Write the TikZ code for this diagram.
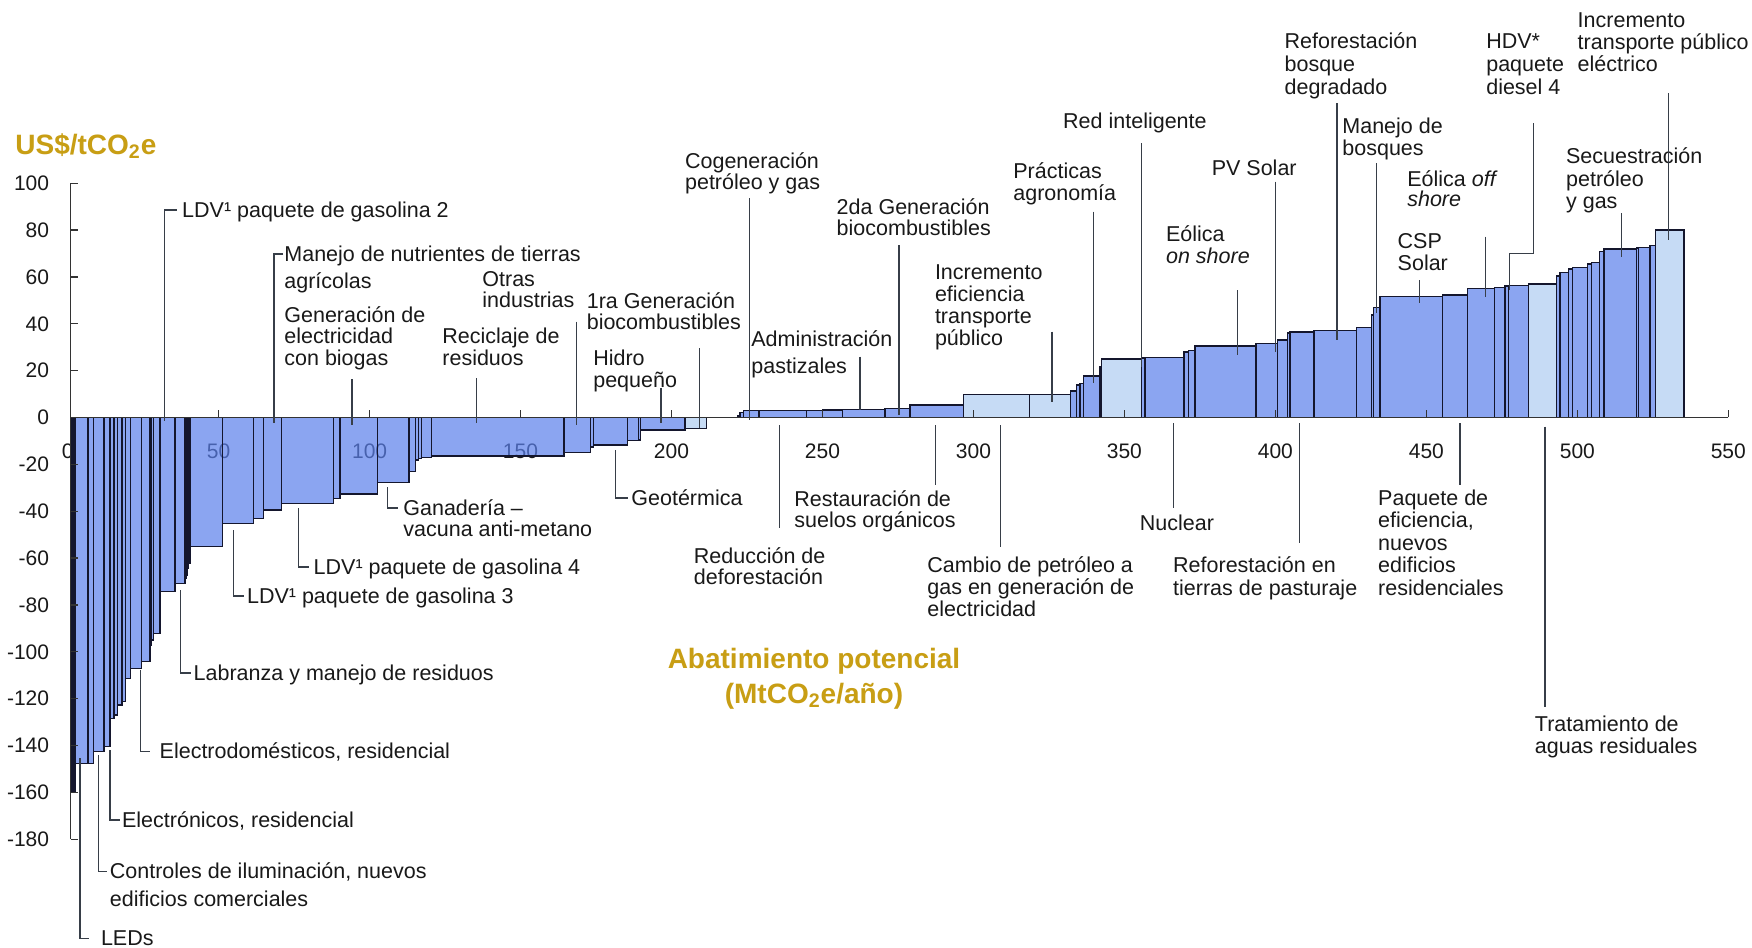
\documentclass[tikz,border=0pt]{standalone}
\usepackage{fontspec}
\setmainfont{Liberation Sans}
\definecolor{barmid}{RGB}{91,128,236}
\definecolor{barlight}{RGB}{174,205,242}
\definecolor{barline}{RGB}{20,22,45}
\definecolor{leadc}{RGB}{55,62,72}
\definecolor{txt}{RGB}{25,25,25}
\definecolor{gold}{RGB}{200,158,20}
\newcommand\lf{\fontsize{10.75}{11}\selectfont}
\newcommand\ML[2][11]{\vtop{\baselineskip=#1pt\lineskiplimit=-50pt\lineskip=0pt #2}}
\tikzset{
  lab/.style={font=\lf, anchor=base west, inner sep=0pt, text=txt},
  tkl/.style={font=\fontsize{10.5}{11}\selectfont, inner sep=0pt, text=txt},
  ttl/.style={font=\fontsize{14}{15}\selectfont\bfseries, inner sep=0pt, text=gold},
  lead/.style={draw=leadc, line width=0.55pt},
  barm/.style={fill=barmid, fill opacity=0.7, draw=barline, draw opacity=1, line width=0.7pt},
  barl/.style={fill=barlight, fill opacity=0.7, draw=barline, draw opacity=1, line width=0.7pt},
  axis/.style={draw=black!80, line width=0.6pt}
}
\begin{document}
\begin{tikzpicture}[x=0.5pt,y=-0.5pt]
\useasboundingbox (0,0) rectangle (1752,948);
\fill[white] (0,0) rectangle (1752,948);

% x tick labels (under the bars)
\foreach \u/\X in {0/67.6,50/218.6,100/369.6,150/520.5,200/671.5,250/822.5,300/973.5,350/1124.4,400/1275.4,450/1426.4,500/1577.4,550/1728.3}
  \node[tkl] (xl\u) at (\X,451) {\u};

% negative bars
\foreach \r/\b/\c [remember=\r as \l (initially 70.5)] in {
  72/791.7/m,73.5/791.7/m,75/791.7/m,88/763.3/m,93.3/763.3/m,104/751.7/m,110/746.7/m,
  114/718.3/m,117.3/715/m,122/705/m,125.3/701.7/m,130.7/678.3/m,141.7/668.3/m,150/661.7/m,
  151.7/645/m,153.3/640/m,160/633.3/m,175/591.7/m,185/583.3/m,186.2/578/m,187.3/575/m,188.7/568/m,
  190/563/m,222.7/546.7/m,253.3/523.3/m,263.3/518.3/m,281.7/510/m,333.3/503.3/m,340/498.3/m,
  377.7/494/m,409/482.7/m,415.7/471.7/m,418.3/460/m,421.7/458.3/m,431.7/457.3/m,564/456/m,
  590.7/452.7/m,593.3/447/m,627.7/445/m,638.3/440.7/m,640.7/440/m,685/430/m,706.7/428.3/l}
  \filldraw[bar\c] (\l,417.3) rectangle (\r,\b);

% positive bars
\foreach \r/\b/\c [remember=\r as \l (initially 738)] in {
  740/415.5/m,743.3/412.5/m,759/410.7/m,806.7/410.7/m,822.7/410.3/m,842.3/409.8/m,885/409.3/m,
  910/408.3/m,963.3/405/m,1029.3/394.3/l,1070.7/394.3/l,1076.7/391/m,1080/385/m,1083.3/383.3/m,
  1100/376/m,1101.7/367/m,1141.7/359/l,1145/358/m,1184/357.3/m,1188.3/352/m,1195/350.7/m,
  1256/346/m,1277.7/343.3/m,1287.3/340/m,1290/333/m,1314/332/m,1356.7/330.7/m,1371.7/327.3/m,
  1373.3/315/m,1380/307.3/m,1442.3/296.7/m,1467.7/295/m,1494.3/288.7/m,1505/287.3/m,
  1508.3/286/m,1528.3/285.7/m,1556.7/284/l,1560/276/m,1568.3/272.7/m,1572.7/269/m,
  1587.3/267.3/m,1591.7/264/m,1599.3/262.3/m,1604/251.7/m,1636.7/249/m,1638.3/248/m,
  1650/247.3/m,1655.7/245.7/m,1684/230/l}
  \filldraw[bar\c] (\l,417.3) rectangle (\r,\b);

% axes
\draw[axis] (70.5,417.3) -- (1728.3,417.3);
\foreach \X in {218.6,369.6,520.5,671.5,822.5,973.5,1124.4,1275.4,1426.4,1577.4,1728.3}
  \draw[axis] (\X,417.3) -- (\X,410);
\draw[axis] (70.5,183.2) -- (70.5,839.2);
\foreach \v [count=\i] in {100,80,...,-180} {
  \draw[axis] (70.5,{417.5-2.343*\v}) -- (77.5,{417.5-2.343*\v});
  \node[tkl, anchor=east] (yl\i) at (49.5,{417.5-2.343*\v}) {\v};
}

% titles
\node[ttl, anchor=base west] (ytitle) at (15,154) {US\$/tCO\textsubscript{2}e};
\node[ttl, anchor=base] (xtitle1) at (814,668) {Abatimiento potencial};
\node[ttl, anchor=base] (xtitle2) at (814,703) {(MtCO\textsubscript{2}e/año)};

% labels above axis
\node[lab] (ldv2) at (181.8,217) {LDV¹ paquete de gasolina 2};
\node[lab] (nutr) at (284,261) {\ML[13.85]{\hbox{Manejo de nutrientes de tierras}\hbox{agrícolas}}};
\node[lab] (biog) at (284,322) {\ML[10.85]{\hbox{Generación de}\hbox{electricidad}\hbox{con biogas}}};
\node[lab] (otras) at (482,286) {\ML[10.75]{\hbox{Otras}\hbox{industrias}}};
\node[lab] (recic) at (442,343.5) {\ML[10.75]{\hbox{Reciclaje de}\hbox{residuos}}};
\node[lab] (bio1) at (586.4,308) {\ML[10.75]{\hbox{1ra Generación}\hbox{biocombustibles}}};
\node[lab] (hidro) at (592.9,365) {\ML{\hbox{Hidro}\hbox{pequeño}}};
\node[lab] (cogen) at (684.7,168) {\ML[10.85]{\hbox{Cogeneración}\hbox{petróleo y gas}}};
\node[lab] (admin) at (751,346) {\ML[13.85]{\hbox{Administración}\hbox{pastizales}}};
\node[lab] (bio2) at (836.3,214.5) {\ML[10.5]{\hbox{2da Generación}\hbox{biocombustibles}}};
\node[lab] (incef) at (934.6,279) {\ML[11.1]{\hbox{Incremento}\hbox{eficiencia}\hbox{transporte}\hbox{público}}};
\node[lab] (pract) at (1013,178.5) {\ML[10.85]{\hbox{Prácticas}\hbox{agronomía}}};
\node[lab] (red) at (1062.8,128) {Red inteligente};
\node[lab] (eolon) at (1165.7,241.5) {\ML[10.85]{\hbox{Eólica}\hbox{\itshape on shore}}};
\node[lab] (pv) at (1211.4,175) {PV Solar};
\node[lab] (refbos) at (1284.2,48.5) {\ML[11.4]{\hbox{Reforestación}\hbox{bosque}\hbox{degradado}}};
\node[lab] (manbos) at (1342,133.5) {\ML[10.85]{\hbox{Manejo de}\hbox{bosques}}};
\node[lab] (hdv) at (1485.9,48.5) {\ML[11.4]{\hbox{HDV*}\hbox{paquete}\hbox{diesel 4}}};
\node[lab] (inctr) at (1577.3,27.5) {\ML[11.1]{\hbox{Incremento}\hbox{transporte público}\hbox{eléctrico}}};
\node[lab] (eoloff) at (1406.9,186) {\ML[10.35]{\hbox{Eólica \textit{off}}\hbox{\itshape shore}}};
\node[lab] (csp) at (1397.3,248.5) {\ML[10.85]{\hbox{CSP}\hbox{Solar}}};
\node[lab] (secu) at (1565.7,163.5) {\ML[11.25]{\hbox{Secuestración}\hbox{petróleo}\hbox{y gas}}};

% labels below axis
\node[lab] (ganad) at (403,515) {\ML[10.8]{\hbox{Ganadería –}\hbox{vacuna anti-metano}}};
\node[lab] (gas4) at (313.3,574) {LDV¹ paquete de gasolina 4};
\node[lab] (gas3) at (246.7,603) {LDV¹ paquete de gasolina 3};
\node[lab] (labr) at (193.3,680) {Labranza y manejo de residuos};
\node[lab] (elecd) at (159.3,758.5) {Electrodomésticos, residencial};
\node[lab] (elecn) at (121.7,827) {Electrónicos, residencial};
\node[lab] (contr) at (109.5,878.5) {\ML[14]{\hbox{Controles de iluminación, nuevos}\hbox{edificios comerciales}}};
\node[lab] (leds) at (100.6,945) {LEDs};
\node[lab] (geot) at (631,505) {Geotérmica};
\node[lab] (rest) at (794,506) {\ML[10.85]{\hbox{Restauración de}\hbox{suelos orgánicos}}};
\node[lab] (reduc) at (693.5,563) {\ML[10.85]{\hbox{Reducción de}\hbox{deforestación}}};
\node[lab] (camb) at (927,572.5) {\ML[11]{\hbox{Cambio de petróleo a}\hbox{gas en generación de}\hbox{electricidad}}};
\node[lab] (nucl) at (1139.5,530) {Nuclear};
\node[lab] (refpas) at (1172.8,572) {\ML[11.5]{\hbox{Reforestación en}\hbox{tierras de pasturaje}}};
\node[lab] (paq) at (1377.8,505.3) {\ML[11.25]{\hbox{Paquete de}\hbox{eficiencia,}\hbox{nuevos}\hbox{edificios}\hbox{residenciales}}};
\node[lab] (trat) at (1534.5,731.5) {\ML[10.85]{\hbox{Tratamiento de}\hbox{aguas residuales}}};

% leader lines above axis
\draw[lead] (176.8,210) -- (164.6,210) -- (164.6,421);
\draw[lead] (283,254) -- (274,254) -- (274,423);
\draw[lead] (352,379) -- (352,425);
\draw[lead] (476.5,378) -- (476.5,423);
\draw[lead] (576.8,321.7) -- (576.8,425);
\draw[lead] (699.3,348) -- (699.3,428);
\draw[lead] (661,388) -- (661,423);
\draw[lead] (749.8,198) -- (749.8,420);
\draw[lead] (860,356.7) -- (860,410);
\draw[lead] (899,245) -- (899,415);
\draw[lead] (1052,331.7) -- (1052,401.7);
\draw[lead] (1093.4,211.7) -- (1093.4,383.3);
\draw[lead] (1141.3,143) -- (1141.3,366.7);
\draw[lead] (1237.2,290) -- (1237.2,355);
\draw[lead] (1275.5,181.7) -- (1275.5,351.7);
\draw[lead] (1337,103.3) -- (1337,340);
\draw[lead] (1376.5,163.3) -- (1376.5,313.3);
\draw[lead] (1419.3,280) -- (1419.3,303.3);
\draw[lead] (1485.9,236.7) -- (1485.9,296.7);
\draw[lead] (1533.7,123.3) -- (1533.7,253.3) -- (1509.6,253.3) -- (1509.6,290);
\draw[lead] (1621.8,213.3) -- (1621.8,256.7);
\draw[lead] (1668.8,93.3) -- (1668.8,240);

% leader lines below axis
\draw[lead] (387.7,487) -- (387.7,508) -- (398,508);
\draw[lead] (298.3,508) -- (298.3,567) -- (309,567);
\draw[lead] (233.3,530) -- (233.3,596) -- (244,596);
\draw[lead] (180.7,590) -- (180.7,673) -- (191,673);
\draw[lead] (140.7,670) -- (140.7,751.5) -- (150,751.5);
\draw[lead] (110,750) -- (110,820) -- (120,820);
\draw[lead] (98.8,755) -- (98.8,871.5) -- (107,871.5);
\draw[lead] (80,758) -- (80,938.5) -- (89,938.5);
\draw[lead] (615.8,450) -- (615.8,498) -- (628,498);
\draw[lead] (779.6,425) -- (779.6,528);
\draw[lead] (935.4,425) -- (935.4,485);
\draw[lead] (1000.4,425) -- (1000.4,546.7);
\draw[lead] (1173.6,423) -- (1173.6,508);
\draw[lead] (1299.6,423) -- (1299.6,543);
\draw[lead] (1460,423) -- (1460,485);
\draw[lead] (1545,426.7) -- (1545,706.7);
\end{tikzpicture}
\end{document}
